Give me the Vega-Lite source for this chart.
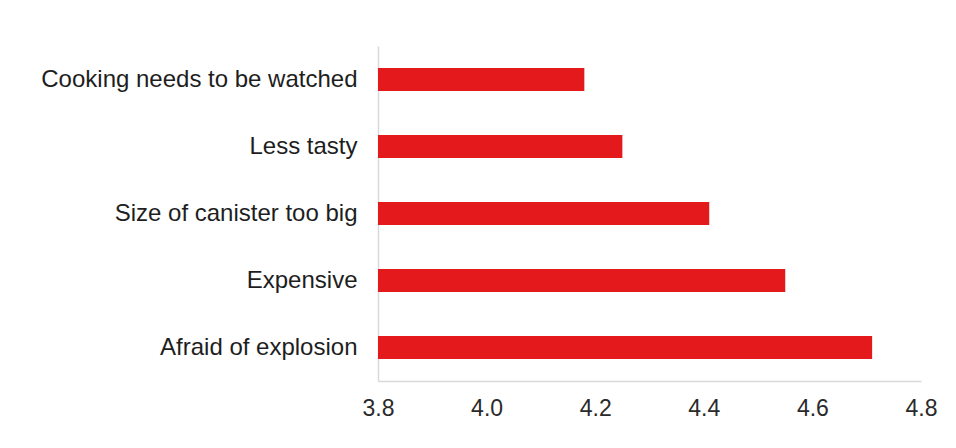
{
  "$schema": "https://vega.github.io/schema/vega-lite/v6.json",
  "width": 543,
  "height": 335,
  "autosize": "none",
  "padding": {"left": 378, "top": 46, "right": 35, "bottom": 67},
  "background": "white",
  "data": {
    "values": [
      {"reason": "Cooking needs to be watched", "score": 4.18},
      {"reason": "Less tasty", "score": 4.25},
      {"reason": "Size of canister too big", "score": 4.41},
      {"reason": "Expensive", "score": 4.55},
      {"reason": "Afraid of explosion", "score": 4.71}
    ]
  },
  "mark": {"type": "bar", "color": "#e3191c", "clip": true},
  "encoding": {
    "y": {
      "field": "reason",
      "type": "nominal",
      "sort": null,
      "scale": {"paddingInner": 0.66, "paddingOuter": 0.33},
      "axis": {
        "title": null,
        "ticks": false,
        "labelFont": "Liberation Sans",
        "labelFontSize": 24,
        "labelColor": "#1e1e1e",
        "labelPadding": 21,
        "labelLimit": 400,
        "domainColor": "#d9d9d9",
        "domainWidth": 1.5,
        "grid": false
      }
    },
    "x": {
      "field": "score",
      "type": "quantitative",
      "scale": {"domain": [3.8, 4.8], "zero": false, "nice": false},
      "axis": {
        "title": null,
        "values": [3.8, 4.0, 4.2, 4.4, 4.6, 4.8],
        "format": ".1f",
        "ticks": false,
        "grid": false,
        "labelFont": "Liberation Sans",
        "labelFontSize": 23,
        "labelColor": "#2a2a2a",
        "labelPadding": 16,
        "labelFlush": false,
        "domainColor": "#d9d9d9",
        "domainWidth": 1.5
      }
    }
  },
  "config": {"view": {"stroke": null}}
}
